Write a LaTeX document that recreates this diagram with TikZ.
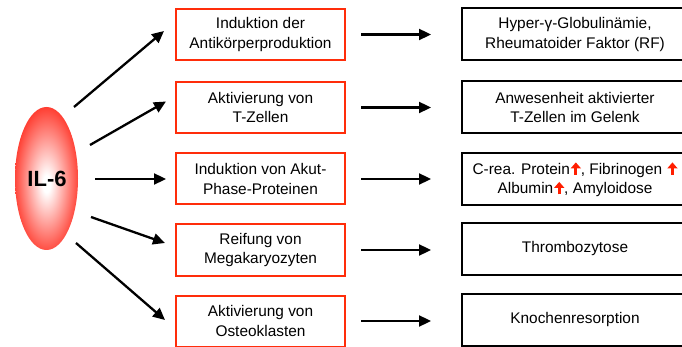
\documentclass[tikz,border=0pt]{standalone}
\usepackage{fontspec}
\setmainfont{Liberation Sans}
\usetikzlibrary{arrows.meta,shapes.geometric}
\definecolor{boxred}{RGB}{255,45,10}
\definecolor{ilred}{RGB}{255,20,5}
\definecolor{arred}{RGB}{255,30,0}
\pgfdeclareradialshading{ilshade}{\pgfpoint{0bp}{-2bp}}{color(0bp)=(white); color(3bp)=(white); color(31bp)=(ilred); color(50bp)=(ilred)}
\newcommand\upar{\hspace{1pt}\tikz[baseline=0pt]\draw[arred, line width=3pt, -{Triangle[length=6pt,width=10pt]}] (0pt,-0.5pt) -- (0pt,12pt);}
\begin{document}
\begin{tikzpicture}[x=1pt,y=-1pt,
  txt/.style={align=center, font=\fontsize{15.4}{19.5}\selectfont, inner sep=0pt},
  redbox/.style={txt, draw=boxred, line width=2pt, minimum width=169pt, minimum height=51pt},
  blackbox/.style={txt, draw=black, line width=2pt, minimum width=226pt, minimum height=52pt},
  arr/.style={line width=2.3pt, -{Triangle[length=12pt,width=11pt]}}]
\useasboundingbox (0,0) rectangle (682,347);
\clip (0,0) rectangle (682,347);
\node[ellipse, shading=ilshade, minimum width=63pt, minimum height=143pt, inner sep=0pt] (il) at (46.5,178.5) {};
\node[font=\fontsize{22}{26}\selectfont\bfseries] (iltxt) at (47,178.5) {IL-6};
% left column
\node[redbox] (r1) at (260.5,34.5) {Induktion der\\Antikörperproduktion};
\node[redbox] (r2) at (260.5,107.5) {Aktivierung von\\T-Zellen};
\node[redbox] (r3) at (260.5,179) {Induktion von Akut-\\Phase-Proteinen};
\node[redbox] (r4) at (260.5,250) {Reifung von\\Megakaryozyten};
\node[redbox] (r5) at (260.5,321) {Aktivierung von\\Osteoklasten};
% right column
\node[blackbox] (b1) at (575,34.5) {Hyper-γ-Globulinämie,\\Rheumatoider Faktor (RF)};
\node[blackbox] (b2) at (575,107.5) {Anwesenheit aktivierter\\T-Zellen im Gelenk};
\node[blackbox] (b3) at (575,179) {C-rea. Protein\upar, Fibrinogen \upar\\Albumin\upar, Amyloidose};
\node[blackbox] (b4) at (575,249) {Thrombozytose};
\node[blackbox] (b5) at (575,320) {Knochenresorption};
% diagonal arrows
\coordinate (s1) at (74,107);
\coordinate (s2) at (90,145);
\coordinate (s3) at (95,179);
\coordinate (s4) at (91,217);
\coordinate (s5) at (76,243);
\draw[arr] (s1) -- ([shift={(-11,-3.5)}]r1.west);
\draw[arr] (s2) -- ([shift={(-9,-6)}]r2.west);
\draw[arr] (s3) -- ([shift={(-9,0)}]r3.west);
\draw[arr] (s4) -- ([shift={(-10,-7)}]r4.west);
\draw[arr] (s5) -- ([shift={(-10,-1)}]r5.west);
% horizontal arrows
\foreach \i in {1,...,5}{
  \draw[arr] ([xshift=15pt]r\i.east) -- ([xshift=-30pt]r\i.east -| b\i.west);
}
\end{tikzpicture}
\end{document}
